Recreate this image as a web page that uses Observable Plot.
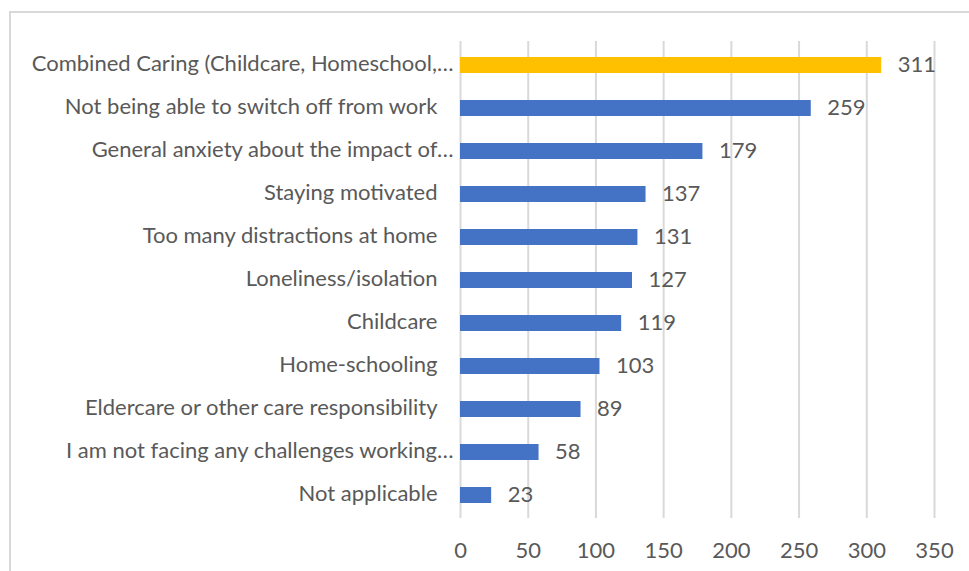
<!DOCTYPE html>
<html>
<head>
<meta charset="utf-8">
<script src="https://cdn.jsdelivr.net/npm/d3@7"></script>
<script src="https://cdn.jsdelivr.net/npm/@observablehq/plot@0.6"></script>
<style>
  html, body { margin: 0; padding: 0; background: #fff; }
  #wrap { position: relative; width: 969px; height: 571px; overflow: hidden; }
  #border { position: absolute; left: 9px; top: 11px; width: 1000px; height: 600px; border: 2px solid #d9d9d9; box-sizing: border-box; }
  #chart { position: absolute; left: 0; top: 0; }
</style>
</head>
<body>
<div id="wrap"><div id="border"></div><div id="chart"></div></div>
<script>
const categories = [
  "Combined Caring (Childcare, Homeschool,…",
  "Not being able to switch off from work",
  "General anxiety about the impact of…",
  "Staying motivated",
  "Too many distractions at home",
  "Loneliness/isolation",
  "Childcare",
  "Home-schooling",
  "Eldercare or other care responsibility",
  "I am not facing any challenges working…",
  "Not applicable"
];
const values = [311, 259, 179, 137, 131, 127, 119, 103, 89, 58, 23];
const highlighted = ["Combined Caring (Childcare, Homeschool,…"];
const xTicks = [0, 50, 100, 150, 200, 250, 300, 350];

const data = categories.map((c, i) => ({category: c, value: values[i], hi: highlighted.includes(c)}));
const truncated = data.filter(d => d.category.endsWith("…"));
const full = data.filter(d => !d.category.endsWith("…"));

const font = "Lato, 'Open Sans', sans-serif";
const textColor = "#595959";

const plot = Plot.plot({
  width: 969,
  height: 571,
  marginLeft: 460,
  marginRight: 35,
  marginTop: 41,
  marginBottom: 53,
  style: {fontFamily: font, fontSize: "22px", color: textColor, background: "transparent"},
  x: {domain: [0, 350], ticks: xTicks, label: null, axis: null},
  y: {domain: categories, paddingInner: 0.63, paddingOuter: 0.315, label: null, axis: null},
  marks: [
    Plot.ruleX(xTicks, {stroke: "#d9d9d9", strokeWidth: 2, strokeOpacity: 1}),
    Plot.barX(data, {
      x: "value", y: "category",
      fill: d => d.hi ? "#FFC000" : "#4472C4"
    }),
    Plot.text(data, {
      x: "value", y: "category", text: d => String(d.value),
      textAnchor: "start", dx: 16, dy: -1, fill: textColor, fontSize: 22
    }),
    Plot.axisX(xTicks, {tickSize: 0, tickPadding: 24, fontSize: 22, fill: textColor, label: null}),
    Plot.text(full, {
      x: 0, y: "category", text: "category", textAnchor: "end",
      dx: -23, dy: -2, fill: textColor, fontSize: 22
    }),
    Plot.text(truncated, {
      x: 0, y: "category", text: "category", textAnchor: "end",
      dx: -7, dy: -2, fill: textColor, fontSize: 22
    })
  ]
});
document.getElementById("chart").appendChild(plot);
</script>
</body>
</html>
